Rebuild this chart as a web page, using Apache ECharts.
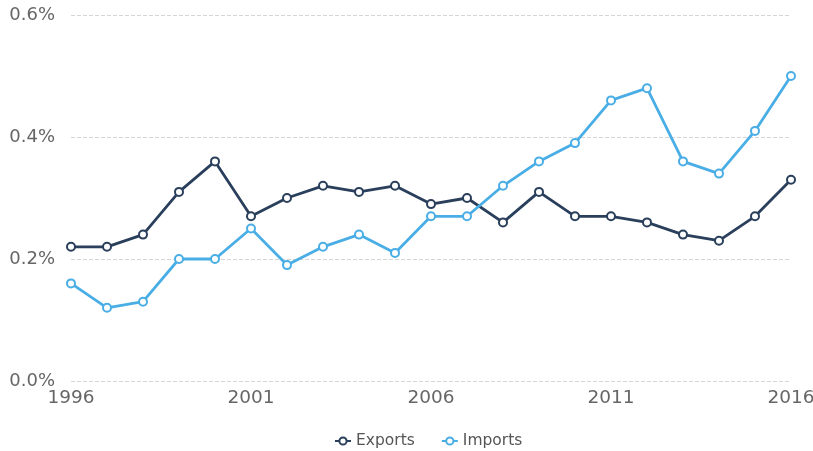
<!DOCTYPE html>
<html><head><meta charset="utf-8">
<script src="https://cdn.jsdelivr.net/npm/echarts@6/dist/echarts.min.js"></script>
<style>html,body{margin:0;padding:0;background:#fff}#c{width:813px;height:451px}</style>
</head><body><div id="c"></div>
<script>
const years = ['1996','1997','1998','1999','2000','2001','2002','2003','2004','2005','2006','2007','2008','2009','2010','2011','2012','2013','2014','2015','2016'];
const exportsData = [0.22,0.22,0.24,0.31,0.36,0.27,0.30,0.32,0.31,0.32,0.29,0.30,0.26,0.31,0.27,0.27,0.26,0.24,0.23,0.27,0.33];
const importsData = [0.16,0.12,0.13,0.20,0.20,0.25,0.19,0.22,0.24,0.21,0.27,0.27,0.32,0.36,0.39,0.46,0.48,0.36,0.34,0.41,0.50];
const chart = echarts.init(document.getElementById('c'));
const font = 'DejaVu Sans';
chart.setOption({
  animation: false,
  color: ['#2a3f5b', '#4aaee6'],
  grid: {left: 71, right: 22, top: 15, bottom: 70, containLabel: false, outerBoundsMode: 'none'},
  legend: {
    top: 428, left: 329, itemGap: 26, itemWidth: 16, itemHeight: 9,
    textStyle: {fontFamily: font, fontSize: 15.5, color: '#555'},
    data: ['Exports', 'Imports']
  },
  xAxis: {
    type: 'category', data: years, boundaryGap: false,
    axisLine: {show: false}, axisTick: {show: false},
    axisLabel: {interval: 4, fontFamily: font, fontSize: 18.5, color: '#666', margin: 8}
  },
  yAxis: {
    type: 'value', min: 0, max: 0.6, interval: 0.2,
    axisLine: {show: false}, axisTick: {show: false},
    splitLine: {lineStyle: {type: 'dashed', color: '#d5d5d5', width: 1}},
    axisLabel: {fontFamily: font, fontSize: 18, color: '#666', margin: 16,
      formatter: v => v.toFixed(1) + '%'}
  },
  series: [
    {name: 'Exports', type: 'line', data: exportsData, symbol: 'emptyCircle', symbolSize: 8,
     lineStyle: {width: 2.8}, itemStyle: {borderWidth: 1.6}},
    {name: 'Imports', type: 'line', data: importsData, symbol: 'emptyCircle', symbolSize: 8,
     lineStyle: {width: 2.8}, itemStyle: {borderWidth: 1.6}}
  ]
});
</script></body></html>
